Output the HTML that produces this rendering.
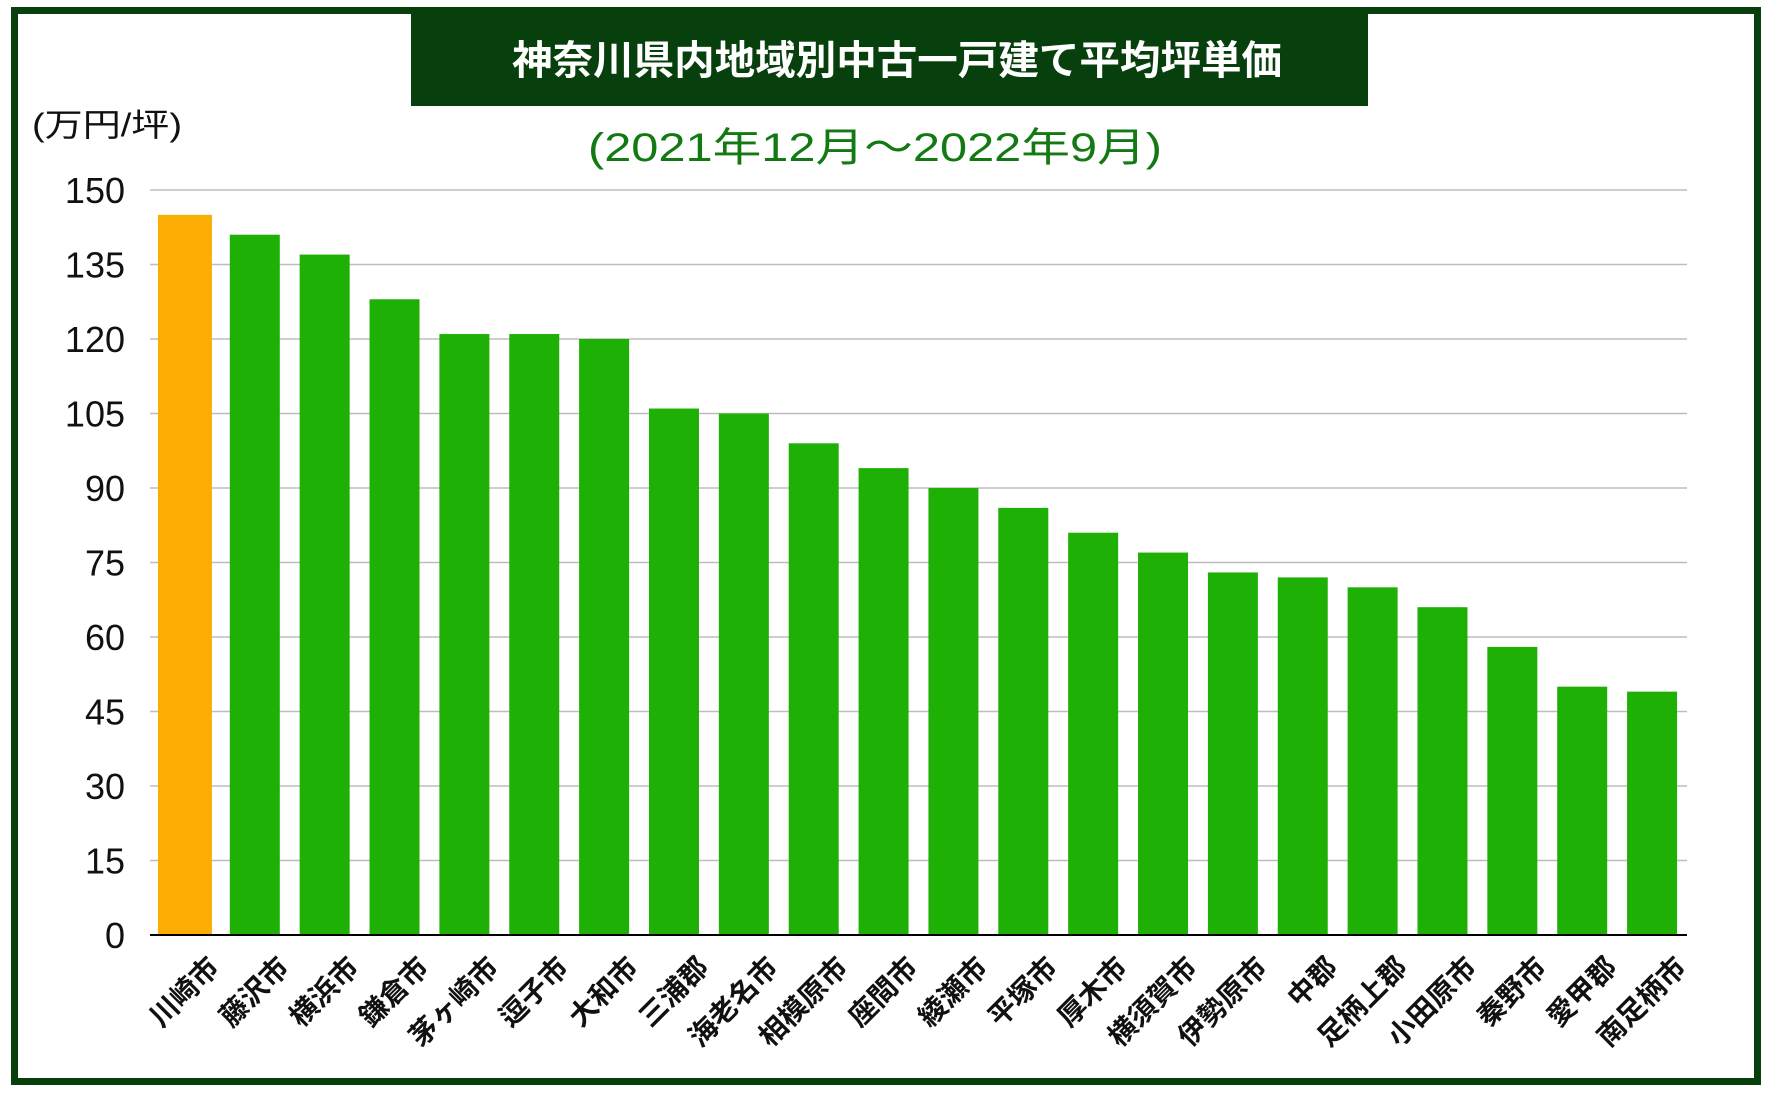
<!DOCTYPE html>
<html><head><meta charset="utf-8"><style>
html,body{margin:0;padding:0;background:#fff;}
svg{display:block;}
text{font-family:"Liberation Sans","Noto Sans CJK JP",sans-serif;}
</style></head><body>
<svg id="chart" width="1780" height="1095" viewBox="0 0 1780 1095" xmlns="http://www.w3.org/2000/svg">
<rect x="14.5" y="10.5" width="1743" height="1071" fill="#fff" stroke="#07400c" stroke-width="7"/>
<rect x="411" y="14" width="957" height="92" fill="#07400c"/>
<text x="897" y="74" text-anchor="middle" font-size="40" font-weight="bold" fill="#fff" textLength="770" lengthAdjust="spacingAndGlyphs">神奈川県内地域別中古一戸建て平均坪単価</text>
<text x="875" y="161" text-anchor="middle" font-size="40" fill="#137a13" textLength="574" lengthAdjust="spacingAndGlyphs">(2021年12月〜2022年9月)</text>
<text x="32" y="136" font-size="32" fill="#111" textLength="150" lengthAdjust="spacingAndGlyphs">(万円/坪)</text>
<g id="grid"></g><g id="bars"></g><g id="labels"></g>
</svg>
<script>
const categories=["川崎市","藤沢市","横浜市","鎌倉市","茅ヶ崎市","逗子市","大和市","三浦郡","海老名市","相模原市","座間市","綾瀬市","平塚市","厚木市","横須賀市","伊勢原市","中郡","足柄上郡","小田原市","秦野市","愛甲郡","南足柄市"];
const values=[145,141,137,128,121,121,120,106,105,99,94,90,86,81,77,73,72,70,66,58,50,49];
const yTicks=[0,15,30,45,60,75,90,105,120,135,150];
const highlight=["川崎市"];
const NS="http://www.w3.org/2000/svg";
const X0=150,X1=1687,Y0=935,Y150=190,YMAX=150;
const slot=(X1-X0)/categories.length;
function y(v){return Y0-(v/YMAX)*(Y0-Y150);}
function xc(i){return X0+slot*(i+0.5);}
function mk(tag,attrs){const e=document.createElementNS(NS,tag);for(const k in attrs)e.setAttribute(k,attrs[k]);return e;}
const grid=document.getElementById('grid'),bars=document.getElementById('bars'),labels=document.getElementById('labels');
yTicks.forEach(t=>{
  if(t>0){const l=mk('line',{x1:X0,x2:X1,y1:y(t),y2:y(t),stroke:'#bdbdbd','stroke-width':1.5});
  
  
  grid.appendChild(l);}
  const tx=mk('text',{x:125,y:y(t)+13,'text-anchor':'end','font-size':36,fill:'#111'});
  
  
  tx.textContent=t;grid.appendChild(tx);
});
categories.forEach((c,i)=>{
  const hi=highlight.includes(c);const w=hi?54:50;
  const r=mk('rect',{x:xc(i)-w/2,y:y(values[i]),width:w,height:Y0-y(values[i]),fill:hi?'#fbad03':'#1fb005'});
  
  
  bars.appendChild(r);
  const tx=mk('text',{x:0,y:0,'text-anchor':'end','font-size':28,'font-weight':'bold',fill:'#111',transform:'translate('+(xc(i)+36)+',969) rotate(-45)'});
  
  
  tx.textContent=c;labels.appendChild(tx);
});
const ax=mk('line',{x1:X0,x2:X1,y1:Y0,y2:Y0,stroke:'#000','stroke-width':2});


bars.appendChild(ax);
</script>
</body></html>
